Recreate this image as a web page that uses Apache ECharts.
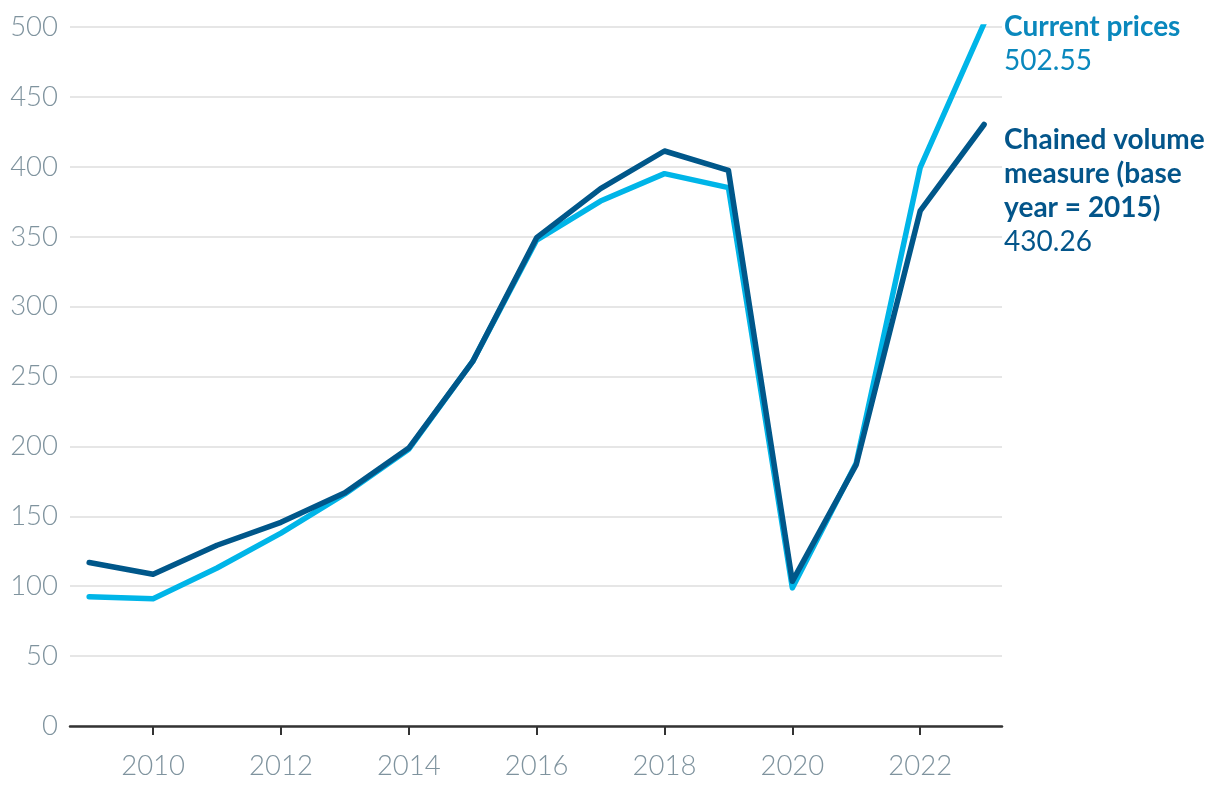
<!DOCTYPE html>
<html>
<head>
<meta charset="utf-8">
<script src="https://cdn.jsdelivr.net/npm/echarts@6/dist/echarts.min.js"></script>
<style>
html,body{margin:0;padding:0;background:#fff;}
#c{width:1220px;height:794px;}
</style>
</head>
<body>
<div id="c"></div>
<script>
const years = [2009,2010,2011,2012,2013,2014,2015,2016,2017,2018,2019,2020,2021,2022,2023];
const currentPrices = [92.5,91,113,138,166,198,260.8,347.6,375.5,395.1,385.1,98.8,188.2,399.4,502.55];
const chainedVolume = [117,108.5,129.3,145.7,166.8,198.8,260.8,349.3,384.4,411.3,397.5,103.5,187,368.4,430.26];
const xTickYears = [2010,2012,2014,2016,2018,2020,2022];
const seriesNames = ['Current prices', 'Chained volume\nmeasure (base\nyear = 2015)'];

const chart = echarts.init(document.getElementById('c'), null, {renderer:'canvas'});
const FONT = 'Lato, "DejaVu Sans", sans-serif';
const lightBlue = '#00b5e8';
const darkBlue = '#00578a';
const axisText = '#7f939e';

function endLabel(name, nameColor, valColor, offY){
  return {
    show: true,
    distance: 20,
    offset: [0, offY],
    formatter: p => '{a|' + name.split('\n').join('}\n{a|') + '}\n{b|' + p.value[1].toFixed(2) + '}',
    rich: {
      a: {fontFamily: FONT, fontSize: 28, fontWeight: 'bold', color: nameColor, lineHeight: 34},
      b: {fontFamily: FONT, fontSize: 28, fontWeight: 'normal', color: valColor, lineHeight: 34}
    }
  };
}

chart.setOption({
  animation: false,
  backgroundColor: '#fff',
  grid: {left: 70, right: 218, top: 27, bottom: 68},
  xAxis: {
    type: 'value',
    min: 2008.7,
    max: 2023.28,
    splitLine: {show: false},
    axisLine: {show: true, lineStyle: {color: '#333', width: 2.5}},
    axisTick: {show: true, customValues: xTickYears, length: 9, lineStyle: {color: '#333', width: 2}},
    axisLabel: {
      customValues: xTickYears,
      formatter: v => String(v),
      color: axisText, fontFamily: FONT, fontSize: 27.5, fontWeight: 300, margin: 26
    }
  },
  yAxis: {
    type: 'value',
    min: 0, max: 500, interval: 50,
    axisLine: {show: false},
    axisTick: {show: false},
    splitLine: {lineStyle: {color: '#e6e6e6', width: 2}},
    axisLabel: {color: axisText, fontFamily: FONT, fontSize: 27.5, fontWeight: 300, margin: 12}
  },
  series: [
    {
      name: 'Current prices', type: 'line', symbol: 'none',
      data: years.map((y,i) => [y, currentPrices[i]]),
      lineStyle: {color: lightBlue, width: 5.5, cap: 'round', join: 'round'},
      itemStyle: {color: lightBlue},
      endLabel: endLabel(seriesNames[0], '#0a88bd', '#0a88bd', 21),
      z: 2
    },
    {
      name: 'Chained volume measure (base year = 2015)', type: 'line', symbol: 'none',
      data: years.map((y,i) => [y, chainedVolume[i]]),
      lineStyle: {color: darkBlue, width: 5.5, cap: 'round', join: 'round'},
      itemStyle: {color: darkBlue},
      endLabel: endLabel(seriesNames[1], '#03558a', '#03558a', 66),
      z: 3
    }
  ]
});
</script>
</body>
</html>
